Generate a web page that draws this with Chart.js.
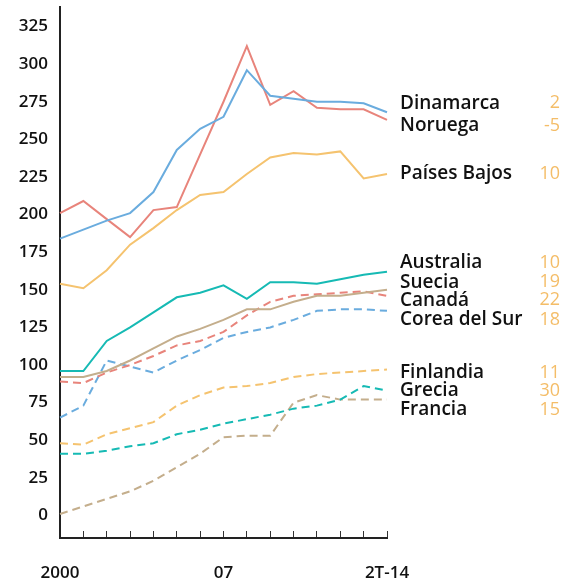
<!DOCTYPE html>
<html><head><meta charset="utf-8">
<script src="https://cdn.jsdelivr.net/npm/chart.js@4.4.1/dist/chart.umd.min.js"></script>
<style>html,body{margin:0;padding:0;background:#fff;} #wrap{position:relative;width:569px;height:583px;}</style>
</head><body><div id="wrap"><canvas id="c" width="569" height="583"></canvas></div>
<script>
const categories = ["2000","01","02","03","04","05","06","07","08","09","10","11","12","13","2T-14"];
const shownLabels = ["2000","07","2T-14"];
const dinamarca   = [184,190,196,201,215,243,257,265,296,279,277,275,275,274,268];
const noruega     = [201,209,197,185,203,205,240,275,312,273,282,271,270,270,263];
const paisesBajos = [154,151,163,180,191,203,213,215,227,238,241,240,242,224,227];
const australia   = [96,96,116,125,135,145,148,153,144,155,155,154,157,160,162];
const suecia      = [92,92,96,103,111,119,124,130,137,137,142,146,146,148,150];
const canada      = [89,88,95,100,106,113,116,122,133,142,146,147,148,149,146];
const coreaDelSur = [65,73,103,99,95,103,110,118,122,125,130,136,137,137,136];
const finlandia   = [48,47,54,58,62,73,80,85,86,88,92,94,95,96,97];
const grecia      = [41,41,43,46,48,54,57,61,64,67,71,73,77,86,83];
const francia     = [1,6,11,16,23,32,41,52,53,53,75,80,77,77,77];
const countries = ["Dinamarca","Noruega","Países Bajos","Australia","Suecia","Canadá","Corea del Sur","Finlandia","Grecia","Francia"];
const changes   = ["2","-5","10","10","19","22","18","11","30","15"];
const yTickValues = [0,25,50,75,100,125,150,175,200,225,250,275,300,325];

// label anchor positions (value units) for the right-hand labels
const labelAt = [274,259,227,168,155,143,130,95,83,70.5];

const BLUE='#6aacde', RED='#e8847b', YEL='#f5c36f', TEAL='#16bab4', TAN='#c4ae8c';
const DASH=[8,5];
function ds(label,data,color,dashed){
  return {label,data,borderColor:color,borderWidth:2,pointRadius:0,tension:0,fill:false,borderDash:dashed?DASH:[]};
}
const seriesList = [
  ds("Dinamarca",dinamarca,BLUE,false),
  ds("Noruega",noruega,RED,false),
  ds("Países Bajos",paisesBajos,YEL,false),
  ds("Australia",australia,TEAL,false),
  ds("Suecia",suecia,TAN,false),
  ds("Canadá",canada,RED,true),
  ds("Corea del Sur",coreaDelSur,BLUE,true),
  ds("Finlandia",finlandia,YEL,true),
  ds("Grecia",grecia,TEAL,true),
  ds("Francia",francia,TAN,true)
];

const FONT_FAMILY='"Open Sans", "DejaVu Sans", sans-serif';
Chart.defaults.font.family = FONT_FAMILY;

const rightLabels = {
  id:'rightLabels',
  afterDatasetsDraw(chart){
    const ctx=chart.ctx, ys=chart.scales.y, ca=chart.chartArea;
    ctx.save();
    ctx.textBaseline='middle';
    countries.forEach((name,i)=>{
      const py=ys.getPixelForValue(labelAt[i]);
      ctx.font='600 19px '+FONT_FAMILY;
      ctx.fillStyle='#111';
      ctx.textAlign='left';
      ctx.fillText(name, ca.right+13, py);
      ctx.font='500 18px '+FONT_FAMILY;
      ctx.fillStyle='#f4bd68';
      ctx.textAlign='right';
      ctx.fillText(changes[i], ca.right+173, py);
    });
    ctx.restore();
  }
};

new Chart(document.getElementById('c'),{
  type:'line',
  data:{labels:categories,datasets:seriesList},
  options:{
    responsive:false, animation:false,
    layout:{padding:{left:0,right:182,top:7,bottom:0}},
    plugins:{legend:{display:false},tooltip:{enabled:false}},
    scales:{
      x:{
        type:'category', offset:false,
        grid:{display:true,drawOnChartArea:false,drawTicks:true,tickLength:-7,color:'#333',lineWidth:1},
        border:{display:true,color:'#222',width:2},
        ticks:{autoSkip:false,maxRotation:0,minRotation:0,padding:32,color:'#111',
          font:{size:17,weight:'600'},
          callback:(v,i)=> shownLabels.includes(categories[i]) ? categories[i] : ''},
        afterFit:s=>{s.height=45;s.paddingLeft=0;s.paddingRight=0;}
      },
      y:{
        min:-15,max:338,
        afterBuildTicks:s=>{s.ticks=yTickValues.map(v=>({value:v}));},
        grid:{display:false,drawTicks:false},
        border:{display:true,color:'#222',width:2},
        ticks:{padding:12,color:'#111',font:{size:17,weight:'600'}},
        afterFit:s=>{s.width=60;s.paddingTop=0;s.paddingBottom=0;}
      }
    }
  },
  plugins:[rightLabels]
});
</script></body></html>
